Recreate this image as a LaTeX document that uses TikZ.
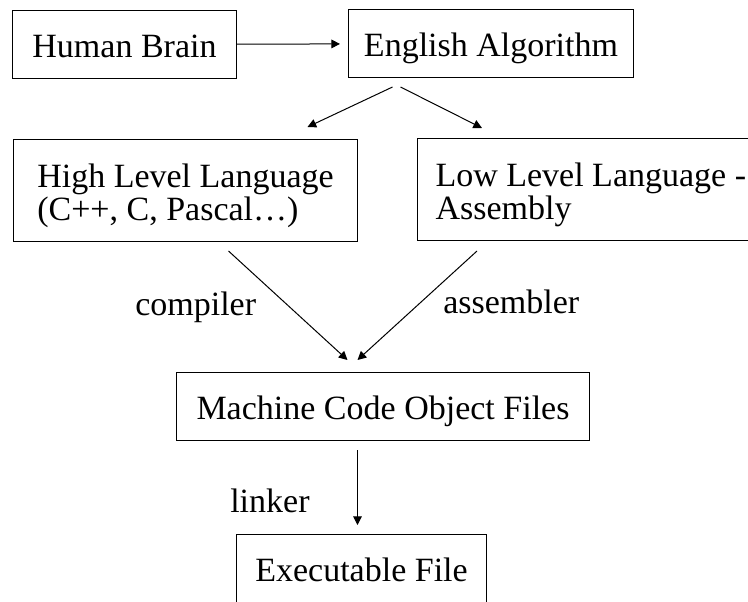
\documentclass[tikz,border=0pt]{standalone}
\usepackage{fontspec}
\setmainfont{Liberation Serif}
\usetikzlibrary{arrows.meta, calc}

\begin{document}
\begin{tikzpicture}[
    x=0.75pt, y=-0.75pt,
    stagebox/.style={draw, line width=0.75pt, anchor=north west, inner xsep=0pt, inner ysep=0pt, font=\fontsize{25.5}{25}\selectfont, text height=35.25pt, text depth=15.75pt},
    twoline/.style={align=left, text height=60.75pt, text depth=15.75pt},
    steplabel/.style={anchor=base west, inner sep=0pt, font=\fontsize{25.5}{25}\selectfont},
    arrow/.style={-{Triangle[length=6.5pt, width=6.5pt]}, line width=0.75pt}
]
\useasboundingbox (0,0) rectangle (748,601);
\clip (0,0) rectangle (748,601);

\node[stagebox, minimum width=168pt] (brain) at (12,10) {Human Brain};
\node[stagebox, minimum width=213.75pt] (english) at (348,9) {English Algorithm};
\node[stagebox, twoline, minimum width=258pt] (high) at (13,139) {High Level Language\\(C++, C, Pascal…)};
\node[stagebox, twoline, inner xsep=13.5pt] (low) at (417,138) {Low Level Language -\\Assembly};
\node[stagebox, minimum width=309.75pt] (machine) at (176,372) {Machine Code Object Files};
\node[stagebox, minimum width=187.5pt] (exec) at (236,534) {Executable File};

\node[steplabel] (compiler) at (135,315) {compiler};
\node[steplabel] (assembler) at (443,313) {assembler};
\node[steplabel] (linker) at (230,512) {linker};

\draw[arrow, shorten >=6pt] (brain) -- (english);
\draw[arrow] ($(english.south)+(-98.5,9)$) -- ($(high.north)+(122,-12)$);
\draw[arrow] ($(english.south)+(-90.5,9)$) -- ($(low.north west)+(65,-10)$);
\draw[arrow] ($(high.south)+(43,9)$) -- ($(machine.north)+(-35.5,-12)$);
\draw[arrow] ($(low.south west)+(60,10)$) -- ($(machine.north)+(-25.5,-12)$);
\draw[arrow] ($(machine.south)+(-25.5,9)$) -- ($(exec.north)+(-4,-9)$);
\end{tikzpicture}
\end{document}
